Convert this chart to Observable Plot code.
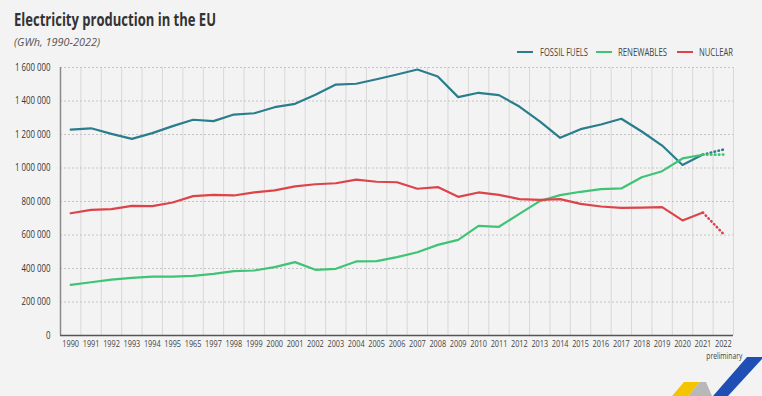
<!DOCTYPE html>
<html><head><meta charset="utf-8">
<script src="https://cdn.jsdelivr.net/npm/d3@7"></script>
<script src="https://cdn.jsdelivr.net/npm/@observablehq/plot@0.6"></script>
<style>
body{margin:0;background:#f3f3f3;}
#wrap{position:relative;width:762px;height:396px;overflow:hidden;background:#f3f3f3;font-family:"Open Sans",sans-serif;}
.ht{position:absolute;white-space:nowrap;line-height:1;transform-origin:0 0;}
#title{left:14px;top:10.4px;font-size:18.5px;font-weight:bold;color:#333;}
#sub{left:14px;top:36.7px;font-size:10.5px;font-style:italic;color:#555;}
.lg{top:46.6px;font-size:10px;color:#444;}
.sw{position:absolute;height:2.5px;top:50.5px;}
#chart{position:absolute;left:0;top:0;}
#logo{position:absolute;left:0;top:0;}
</style></head><body>
<div id="wrap">
  <div id="chart"></div>
  <div id="title" class="ht"></div>
  <div id="sub" class="ht"></div>
  <svg id="logo" width="762" height="396">
    <polygon points="672,396 684,382 700,382 688,396" fill="#f5c400"/>
    <polygon points="688,396 700,382 706,382 712,396" fill="#b8b8b8"/>
    <polygon points="747,357 762,357 762,359 728,396 713,396" fill="#1f4fb5"/>
  </svg>
</div>
<script>
const titleText = "Electricity production in the EU";
const subtitleText = "(GWh, 1990-2022)";
const years = [1990,1991,1992,1993,1994,1995,1996,1997,1998,1999,2000,2001,2002,2003,2004,2005,2006,2007,2008,2009,2010,2011,2012,2013,2014,2015,2016,2017,2018,2019,2020,2021,2022];
const xLabels = ["1990","1991","1992","1993","1994","1995","1965","1997","1998","1999","2000","2001","2002","2003","2004","2005","2006","2007","2008","2009","2010","2011","2012","2013","2014","2015","2016","2017","2018","2019","2020","2021","2022"];
const fossil = [1229000,1237000,1204000,1174000,1208000,1250000,1288000,1280000,1319000,1327000,1363000,1383000,1437000,1498000,1503000,1530000,1558000,1588000,1546000,1423000,1449000,1435000,1367000,1278000,1180000,1232000,1260000,1294000,1218000,1134000,1018000,1080000,1110000];
const renewables = [302000,318000,334000,344000,352000,352000,356000,368000,384000,388000,408000,438000,392000,398000,442000,444000,468000,497000,541000,571000,655000,649000,726000,802000,838000,858000,874000,878000,945000,981000,1057000,1079000,1080000];
const nuclear = [730000,750000,754000,774000,772000,794000,832000,840000,836000,854000,866000,890000,903000,909000,931000,918000,915000,876000,886000,828000,854000,840000,814000,810000,814000,786000,770000,762000,764000,766000,687000,734000,607000];
const yTicks = [0,200000,400000,600000,800000,1000000,1200000,1400000,1600000];
const seriesNames = ["FOSSIL FUELS","RENEWABLES","NUCLEAR"];
const seriesColors = ["#2a7d8c","#3fc374","#dc4449"];
const lastFinalYear = 2021;
const preliminaryYear = 2022;
const preliminaryNote = "preliminary";

const wrap = document.getElementById("wrap");
function fitHtml(el, target){ const w = el.getBoundingClientRect().width; el.style.transform = `scaleX(${target/w})`; }
const tEl = document.getElementById("title"); tEl.textContent = titleText; fitHtml(tEl, 202);
const sEl = document.getElementById("sub"); sEl.textContent = subtitleText; fitHtml(sEl, 86);

// legend layout (pixel placement only)
const legendLayout = [{sw:517, tx:540, w:48},{sw:596, tx:618, w:49},{sw:677, tx:699, w:34}];
seriesNames.forEach((n,i)=>{
  const sw = document.createElement("div"); sw.className="sw";
  sw.style.left = legendLayout[i].sw+"px"; sw.style.width="16px"; sw.style.background = seriesColors[i];
  wrap.appendChild(sw);
  const tx = document.createElement("div"); tx.className="ht lg"; tx.textContent = n;
  tx.style.left = legendLayout[i].tx+"px"; wrap.appendChild(tx); fitHtml(tx, legendLayout[i].w);
});

const seriesValues = [fossil, renewables, nuclear];
const rows = [];
seriesNames.forEach((s,i)=>years.forEach((y,j)=>rows.push({series:s, year:y, value:seriesValues[i][j]})));
const solid = rows.filter(d=>d.year<=lastFinalYear);
const dotted = rows.filter(d=>d.year>=lastFinalYear);
const bounds = years.map(y=>y+0.5);
const fmt = d => d3.format(",")(d).replace(/,/g," ");

const chart = Plot.plot({
  width: 762, height: 396,
  marginLeft: 60, marginRight: 29, marginTop: 67, marginBottom: 61,
  style: {background:"transparent", fontFamily:'"Open Sans",sans-serif', overflow:"visible"},
  x: {type:"linear", domain:[years[0]-0.5, years[years.length-1]+0.5]},
  y: {domain:[yTicks[0], yTicks[yTicks.length-1]]},
  color: {domain: seriesNames, range: seriesColors},
  marks: [
    Plot.ruleX(bounds, {stroke:"#d8d8d8", strokeWidth:1}),
    Plot.ruleY(yTicks.slice(1), {stroke:"#c4c4c4", strokeDasharray:"2,2"}),
    Plot.ruleX([years[0]-0.5], {stroke:"#8a8a8a", strokeWidth:1.5}),
    Plot.ruleY([0], {stroke:"#555", strokeWidth:1.5}),
    Plot.axisY({ticks: yTicks, tickFormat: fmt, tickSize: 0, tickPadding: 10, fontSize: 10.5, fill:"#333", label: null}),
    Plot.axisX({ticks: years, tickFormat: d => xLabels[years.indexOf(d)], tickSize: 0, tickPadding: 5.5, fontSize: 8.5, fill:"#444", label: null}),
    Plot.line(solid, {x:"year", y:"value", z:"series", stroke:"series", strokeWidth:2.2}),
    Plot.line(dotted, {x:"year", y:"value", z:"series", stroke:"series", strokeWidth:2.6, strokeDasharray:"0.5,3.5", strokeLinecap:"round"}),
    Plot.text([preliminaryNote], {x: preliminaryYear, y: 0, dy: 20.5, dx: 1, text: d=>d, fontSize: 8.5, fill:"#444"})
  ]
});
document.getElementById("chart").appendChild(chart);

function squeeze(nodes, ref, target){
  if (!nodes.length || !ref) return;
  const s = target / ref.getComputedTextLength();
  nodes.forEach(t=>{ const L = t.getComputedTextLength(); t.setAttribute("textLength", L*s); t.setAttribute("lengthAdjust","spacingAndGlyphs"); });
}
const xt = [...chart.querySelectorAll('g[aria-label="x-axis tick label"] text')];
squeeze(xt, xt[0], 16.7);
const yt = [...chart.querySelectorAll('g[aria-label="y-axis tick label"] text')];
squeeze(yt, yt[yt.length-1], 35.5);
const pt = [...chart.querySelectorAll('g[aria-label="text"] text')];
squeeze(pt, pt[0], 36);
</script>
</body></html>
